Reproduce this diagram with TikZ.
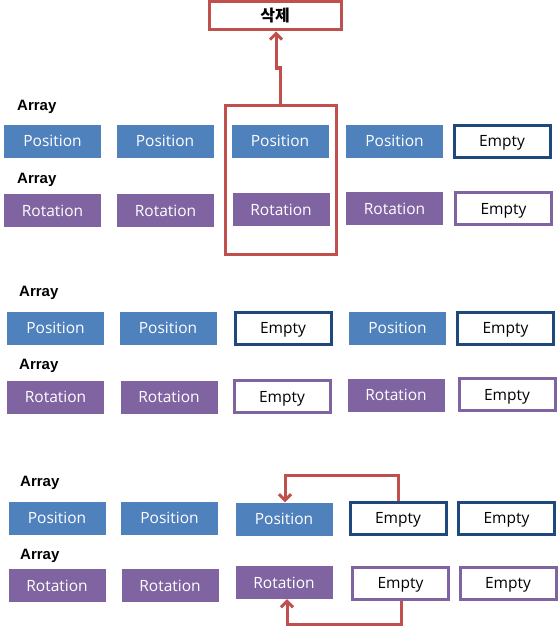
\documentclass[tikz,border=0pt]{standalone}
\usepackage{fontspec}
\setmainfont{Open Sans}
\newfontfamily\krfont{Noto Sans CJK KR}
\newfontfamily\lblfont{Liberation Sans}
\usetikzlibrary{arrows.meta}
\definecolor{posblue}{HTML}{4F81BD}
\definecolor{rotpurple}{HTML}{8064A2}
\definecolor{darkblue}{HTML}{1F497D}
\definecolor{delred}{HTML}{C0504D}
\tikzset{
  cell/.style={minimum width=97pt, minimum height=33pt, inner sep=0pt, text height=13.5pt, text depth=2pt, font=\fontsize{15.5}{18}\selectfont},
  posbox/.style={cell, fill=posblue, text=white},
  rotbox/.style={cell, fill=rotpurple, text=white},
  emptypos/.style={cell, draw=darkblue, line width=3pt, fill=white, text=black, minimum width=96pt, minimum height=32pt},
  emptyrot/.style={cell, draw=rotpurple, line width=3pt, fill=white, text=black, minimum width=96pt, minimum height=32pt},
  arrlabel/.style={anchor=west, inner sep=0pt, font=\lblfont\bfseries\fontsize{15}{17}\selectfont},
  redline/.style={draw=delred, line width=3pt},
  redarrow/.style={redline, -{Straight Barb[length=6pt,width=12pt,line width=3pt]}}
}
\begin{document}
\begin{tikzpicture}[x=1pt,y=-1pt]
\useasboundingbox (0,0) rectangle (559,626);
% top delete box
\node[redline, minimum width=132pt, minimum height=28pt, inner sep=0pt, font=\krfont\bfseries\fontsize{16}{18}\selectfont] (del) at (275,16) {삭제};
% section 1
\node[arrlabel] (lab1) at (17,107) {Array};
\node[arrlabel] (lab2) at (17,180) {Array};
\node[posbox] (a1) at (52.5,141) {Position};
\node[posbox] (a2) at (165,141) {Position};
\node[posbox] (a3) at (280,141) {Position};
\node[posbox] (a4) at (394.5,141) {Position};
\node[emptypos] (a5) at (502,141) {Empty};
\node[rotbox] (b1) at (52.5,210.5) {Rotation};
\node[rotbox] (b2) at (165.5,210.5) {Rotation};
\node[rotbox] (b3) at (281,209.5) {Rotation};
\node[rotbox] (b4) at (394.5,208.5) {Rotation};
\node[emptyrot] (b5) at (503.5,208.5) {Empty};
\node[redline, minimum width=111pt, minimum height=149pt, inner sep=0pt] (sel) at (280.5,179.5) {};
\coordinate (j1) at (280.5,68);
\coordinate (j2) at (276,68);
\draw[redarrow] (sel.north) -- (j1) -- (j2) -- (j2 |- del.south);
% section 2
\node[arrlabel] (lab3) at (19,293) {Array};
\node[arrlabel] (lab4) at (19,366) {Array};
\node[posbox] (c1) at (55.5,328) {Position};
\node[posbox] (c2) at (168,328) {Position};
\node[emptypos] (c3) at (283,328) {Empty};
\node[posbox] (c4) at (397.5,328) {Position};
\node[emptypos] (c5) at (505.5,328) {Empty};
\node[rotbox] (d1) at (55.5,397) {Rotation};
\node[rotbox] (d2) at (169,397) {Rotation};
\node[emptyrot] (d3) at (282,396.5) {Empty};
\node[rotbox] (d4) at (396,395) {Rotation};
\node[emptyrot] (d5) at (507,394.5) {Empty};
% section 3
\node[arrlabel] (lab5) at (20,483) {Array};
\node[arrlabel] (lab6) at (20,556) {Array};
\node[posbox] (e1) at (57,518) {Position};
\node[posbox] (e2) at (169.5,518) {Position};
\node[posbox] (e3) at (284,519) {Position};
\node[emptypos] (e4) at (398,518) {Empty};
\node[emptypos] (e5) at (506.5,518) {Empty};
\node[rotbox] (f1) at (57,585.5) {Rotation};
\node[rotbox] (f2) at (170,585.5) {Rotation};
\node[rotbox] (f3) at (284,582.5) {Rotation};
\node[emptyrot] (f4) at (400.5,583) {Empty};
\node[emptyrot] (f5) at (508,583) {Empty};
\coordinate (t1) at (398,475);
\coordinate (t2) at (285,475);
\draw[redarrow] (e4.north) -- (t1) -- (t2) -- (t2 |- e3.north);
\coordinate (u1) at (401,624);
\coordinate (u2) at (287,624);
\draw[redarrow] (f4.south -| u1) -- (u1) -- (u2) -- (u2 |- f3.south);
\end{tikzpicture}
\end{document}
